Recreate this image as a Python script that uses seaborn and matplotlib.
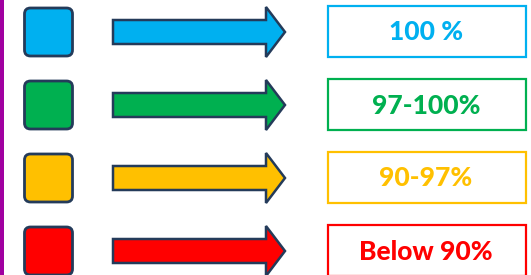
import matplotlib
import matplotlib.pyplot as plt
import seaborn as sns
from matplotlib.patches import FancyBboxPatch, Polygon, Rectangle

matplotlib.use("Agg")

# legend rows, top to bottom
LABELS = ["100 %", "97-100%", "90-97%", "Below 90%"]
COLORS = ["#00B0F0", "#00B050", "#FFC000", "#FF0000"]

EDGE = "#243B5A"
PURPLE = "#A000A0"

sns.set_theme(style="white")
plt.rcParams["font.family"] = ["Lato", "DejaVu Sans"]

fig = plt.figure(figsize=(5.31, 2.75), dpi=100)
ax = fig.add_axes([0, 0, 1, 1])
ax.set_xlim(0, 531)
ax.set_ylim(275, 0)
ax.axis("off")

# purple rule down the left edge
ax.add_patch(Rectangle((0, 0), 4, 275, color=PURPLE, lw=0))

for i, (label, color) in enumerate(zip(LABELS, COLORS)):
    yc = 32 + 73 * i

    # rounded colour swatch
    ax.add_patch(FancyBboxPatch((24.5, yc - 24), 48, 48,
                                boxstyle="round,pad=0,rounding_size=6",
                                fc=color, ec=EDGE, lw=2))

    # block arrow
    arrow = [(113, yc - 12), (266, yc - 12), (266, yc - 25), (285, yc),
             (266, yc + 25), (266, yc + 12), (113, yc + 12)]
    ax.add_patch(Polygon(arrow, closed=True, fc=color, ec=EDGE, lw=1.8,
                         joinstyle="miter"))

    # outlined label box
    ax.add_patch(Rectangle((327.5, yc - 26), 198, 51, fc="white", ec=color, lw=1.6))
    ax.text(426, yc + 0.5, label, color=color, fontsize=19, fontweight="black",
            ha="center", va="center")

fig.savefig("out.png", dpi=100)
